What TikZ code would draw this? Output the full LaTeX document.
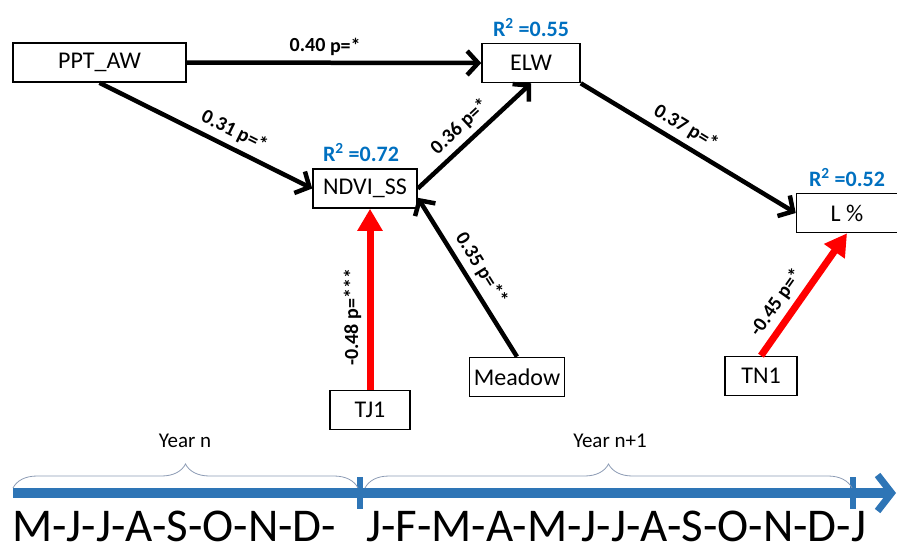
\documentclass[tikz,border=0pt]{standalone}
\usepackage{fontspec}
\setmainfont{Carlito}
\usetikzlibrary{arrows.meta,decorations.pathreplacing,calc}

\begin{document}
\begin{tikzpicture}[x=1pt,y=-1pt]
        \definecolor{rsq}{RGB}{0,112,192}
        \definecolor{tln}{RGB}{46,117,182}
        \definecolor{brc}{RGB}{140,155,180}
        \tikzset{
            lbl/.style={text=black,font=\bfseries\fontsize{20}{23}\selectfont,sloped,above=2pt},
            rlbl/.style={above=3pt,text=rsq,font=\bfseries\fontsize{22}{25}\selectfont},
            posarr/.style={line width=4.5pt,-{Straight Barb[length=11pt,width=24pt]}},
            negarr/.style={red,line width=7pt,-{Triangle[length=22pt,width=24pt]}}
        }
        \useasboundingbox (0,0) rectangle (897,550);

        \begin{scope}[
            every node/.style={draw,line width=1.6pt,minimum height=39pt,inner sep=0pt,
                font=\fontsize{24}{28}\selectfont}
        ]
            \node (P)  [minimum width=173pt] at (99.5,62.5) {PPT\_AW};
            \node (E)  [minimum width=98pt]  at (531,63)    {ELW};
            \node (N)  [minimum width=104pt] at (365,188.5) {NDVI\_SS};
            \node (L)  [minimum width=101pt] at (847,213)   {L \%};
            \node (TN) [minimum width=72pt]  at (761,376)   {TN1};
            \node (M)  [minimum width=95pt]  at (517,377)   {Meadow};
            \node (TJ) [minimum width=80pt]  at (370,410)   {TJ1};
        \end{scope}
        \node [rlbl] at (E.north)    {R\textsuperscript{2} =0.55};
        \node [rlbl] at ($(N.north)+(-4,0)$) {R\textsuperscript{2} =0.72};
        \node [rlbl] at (L.north)    {R\textsuperscript{2} =0.52};

        \draw [posarr] (P.east)       -- node[lbl,pos=0.47]{0.40 p=*}   (E.west);
        \draw [posarr] (P.south)      -- node[lbl,pos=0.6] {0.31 p=*}   (N.west);
        \draw [posarr] (N.east)       -- node[lbl,pos=0.47]{0.36 p=*}   (E.south);
        \draw [posarr] (E.south east) -- node[lbl,pos=0.45]{0.37 p=*}   (L.west);
        \draw [posarr] (M.north)      -- node[lbl,pos=0.5] {0.35 p=**}  (N.-10);
        \draw [negarr] (TJ.north)     -- node[lbl,pos=0.4] {-0.48 p=***} (TJ.north |- N.south);
        \draw [negarr] (TN.north)     -- node[lbl,pos=0.35]{-0.45 p=*}  (L.south);

        % time line
        \coordinate (t0) at (13,493);
        \coordinate (t1) at (896,493);
        \draw [tln,line width=10pt,-{Straight Barb[length=14pt,width=36pt,line width=7pt]}] (t0) -- (t1);
        \draw [tln,line width=6pt] (360,477) -- (360,509);
        \draw [tln,line width=6pt] (853,477) -- (853,509);
        \draw [brc,line width=0.8pt,decorate,decoration={brace,amplitude=24pt}] (13,488) -- (358,488);
        \draw [brc,line width=0.8pt,decorate,decoration={brace,amplitude=24pt}] (365,488) -- (852,488);
        \node (yn)  [font=\fontsize{21}{24}\selectfont] at (185,441) {Year n};
        \node (yn1) [font=\fontsize{21}{24}\selectfont] at (610,441) {Year n+1};
        \node (m1) [anchor=base west,inner sep=0pt,font=\fontsize{47}{54}\selectfont] at (12,541) {M-J-J-A-S-O-N-D-};
        \node (m2) [anchor=base west,inner sep=0pt,font=\fontsize{47}{54}\selectfont] at (366,541) {J-F-M-A-M-J-J-A-S-O-N-D-J};
\end{tikzpicture}
\end{document}
